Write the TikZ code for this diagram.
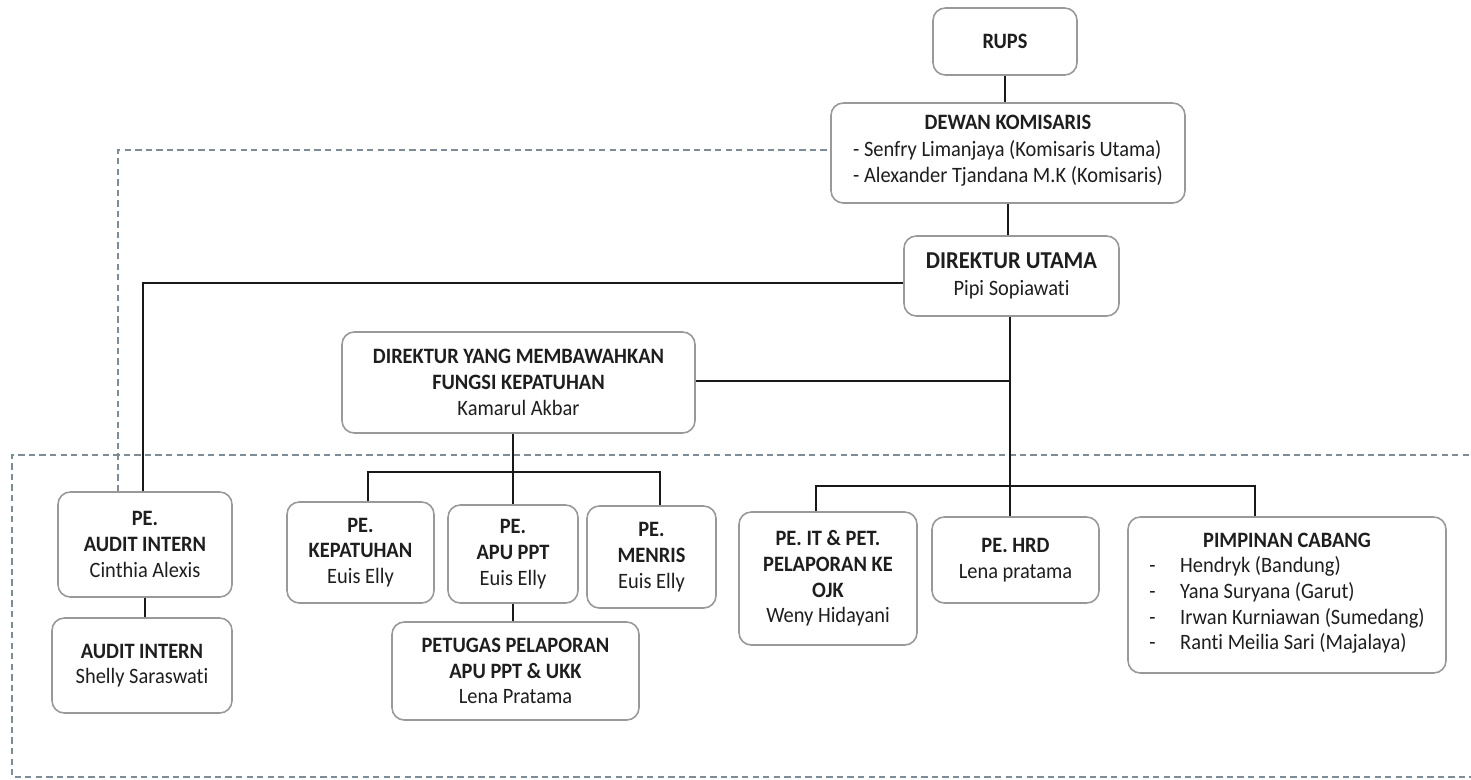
\documentclass[tikz,border=0pt]{standalone}
\usepackage{fontspec}
\setmainfont{Carlito}[Ligatures=NoCommon, FakeStretch=0.93]
\usetikzlibrary{calc}
\definecolor{inkc}{HTML}{1E1E1E}
\definecolor{boxline}{HTML}{999999}
\definecolor{guidec}{HTML}{7E8C98}
\tikzset{
  orgbox/.style={draw=boxline, line width=0.9pt, rounded corners=7pt, fill=white,
    align=center, inner sep=0pt, text=inkc,
    font=\fontsize{12.5}{14.6}\selectfont},
  link/.style={draw=black!90, line width=1.15pt},
  guide/.style={draw=guidec, line width=1.1pt, dash pattern=on 3.6pt off 2.4pt},
}
\newcommand{\ttl}[1]{\textbf{#1}}
\begin{document}
\begin{tikzpicture}[x=0.02cm, y=-0.02cm]
\useasboundingbox (0,0) rectangle (1471,779);

% dashed frame of the lower level
\draw[guide] (1490,455) -- (12,455) -- (12,777) -- (1490,777);

% boxes
\node[orgbox, minimum width=144*0.02cm, minimum height=67*0.02cm] (rups) at (1005,41.5) {\ttl{RUPS}};
\node[orgbox, minimum width=354*0.02cm, minimum height=100*0.02cm, font=\fontsize{12.5}{15.2}\selectfont] (dewan) at (1008,153)
  {\ttl{DEWAN KOMISARIS}\\
   \begin{tabular}[t]{@{}l@{}}- Senfry Limanjaya (Komisaris Utama)\\- Alexander Tjandana M.K (Komisaris)\end{tabular}};
\node[orgbox, minimum width=215*0.02cm, minimum height=80*0.02cm, font=\fontsize{12.5}{15.5}\selectfont] (dirut) at (1011.5,276)
  {{\fontsize{13.8}{15.5}\selectfont\ttl{DIREKTUR UTAMA}}\\Pipi Sopiawati};
\node[orgbox, minimum width=353*0.02cm, minimum height=101*0.02cm] (dirk) at (518.5,382.5)
  {\ttl{DIREKTUR YANG MEMBAWAHKAN}\\\ttl{FUNGSI KEPATUHAN}\\Kamarul Akbar};
\node[orgbox, minimum width=174*0.02cm, minimum height=105*0.02cm] (pai) at (145,544.5)
  {\ttl{PE.}\\\ttl{AUDIT INTERN}\\Cinthia Alexis};
\node[orgbox, minimum width=180*0.02cm, minimum height=95*0.02cm] (ai) at (142,665.5)
  {\ttl{AUDIT INTERN}\\Shelly Saraswati};
\node[orgbox, minimum width=147*0.02cm, minimum height=101*0.02cm] (kep) at (360.5,552.5)
  {\ttl{PE.}\\\ttl{KEPATUHAN}\\Euis Elly};
\node[orgbox, minimum width=130*0.02cm, minimum height=98*0.02cm] (apu) at (513,554)
  {\ttl{PE.}\\\ttl{APU PPT}\\Euis Elly};
\node[orgbox, minimum width=129*0.02cm, minimum height=102*0.02cm] (men) at (651.5,557)
  {\ttl{PE.}\\\ttl{MENRIS}\\Euis Elly};
\node[orgbox, minimum width=247*0.02cm, minimum height=98*0.02cm] (pet) at (515.5,671)
  {\ttl{PETUGAS PELAPORAN}\\\ttl{APU PPT \& UKK}\\Lena Pratama};
\node[orgbox, minimum width=178*0.02cm, minimum height=133*0.02cm] (it) at (828,578.5)
  {\ttl{PE. IT \& PET.}\\\ttl{PELAPORAN KE}\\\ttl{OJK}\\Weny Hidayani};
\node[orgbox, minimum width=167*0.02cm, minimum height=86*0.02cm] (hrd) at (1015.5,560)
  {\ttl{PE. HRD}\\Lena pratama};
\node[orgbox, minimum width=318*0.02cm, minimum height=156*0.02cm] (pim) at (1287,595)
  {\ttl{PIMPINAN CABANG}\\
   \begin{tabular}[t]{@{}l@{\hspace{14pt}}l@{}}
   - & Hendryk (Bandung)\\
   - & Yana Suryana (Garut)\\
   - & Irwan Kurniawan (Sumedang)\\
   - & Ranti Meilia Sari (Majalaya)
   \end{tabular}};

% junction points
\coordinate (dTop) at (1010,486);
\coordinate (kTop) at (513,472);

% dashed line from the commissioners to internal audit
\draw[guide] (pai.north -| 118,0) -- (118,150) -- (dewan.west |- 0,150);

% solid reporting lines
\draw[link] (rups.south) -- (dewan.north -| rups.south);
\draw[link] (dewan.south) -- (dewan.south |- dirut.north);
\draw[link] (dirut.west |- 0,283) -- (143,283) -- (pai.north -| 143,0);
\draw[link] (dirut.south -| dTop) -- (dTop);
\draw[link] (dirk.east |- 0,381) -- (dTop |- 0,381);
\draw[link] (dirk.south -| kTop) -- (kTop);
\draw[link] (kep.north -| 368,0) -- (368,472) -- (660,472) -- (men.north -| 660,0);
\draw[link] (kTop) -- (apu.north -| kTop);
\draw[link] (apu.south -| kTop) -- (pet.north -| kTop);
\draw[link] (pai.south) -- (ai.north -| pai.south);
\draw[link] (it.north -| 816,0) -- (816,486) -- (1255,486) -- (pim.north -| 1255,0);
\draw[link] (dTop) -- (hrd.north -| dTop);
\end{tikzpicture}
\end{document}
